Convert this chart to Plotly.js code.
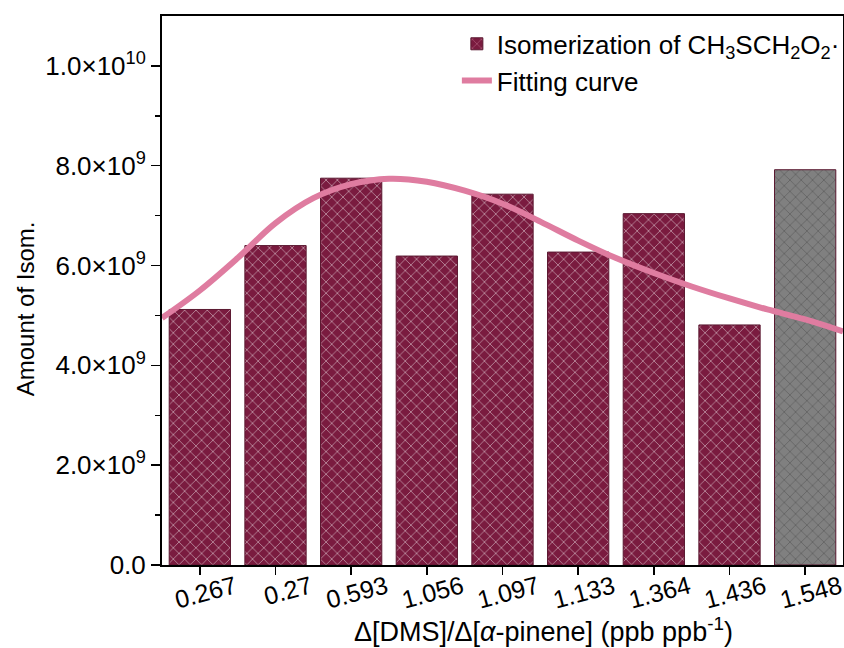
<!DOCTYPE html>
<html>
<head>
<meta charset="utf-8">
<script src="https://cdn.plot.ly/plotly-3.0.1.min.js"></script>
<style>html,body{margin:0;padding:0;background:#fff;}#chart{width:844px;height:648px;}</style>
</head>
<body>
<div id="chart"></div>
<script>
// Categories (x tick labels)
const categories = ["0.267", "0.27", "0.593", "1.056", "1.097", "1.133", "1.364", "1.436", "1.548"];
// Bar values: amount of isomerization
const isomValues = [5.12e9, 6.40e9, 7.75e9, 6.19e9, 7.43e9, 6.27e9, 7.04e9, 4.81e9, 7.92e9];
// Fitting curve (x in category-index units)
const curveX = [-0.5, 0.0, 0.5, 1.0, 1.5, 2.0, 2.5, 3.0, 3.5, 4.0, 4.5, 5.0, 5.5, 6.0, 6.5, 7.0, 7.5, 8.0, 8.5];
const curveY = [4.95e9, 5.50e9, 6.15e9, 6.85e9, 7.35e9, 7.63e9, 7.74e9, 7.68e9, 7.50e9, 7.24e9, 6.88e9, 6.50e9, 6.15e9, 5.85e9, 5.58e9, 5.34e9, 5.12e9, 4.92e9, 4.68e9];
// Y tick labels
const yTickVals = [0, 2e9, 4e9, 6e9, 8e9, 1e10];
const yTickText = ["0.0", "2.0×10<sup>9</sup>", "4.0×10<sup>9</sup>", "6.0×10<sup>9</sup>", "8.0×10<sup>9</sup>", "1.0×10<sup>10</sup>"];
const yMinorVals = [1e9, 3e9, 5e9, 7e9, 9e9];
// Axis titles
const xTitle = "Δ[DMS]/Δ[<i>α</i>-pinene] (ppb ppb<sup>-1</sup>)";
const yTitle = "Amount of Isom.";

const idx = categories.map((_, i) => i);
const maroon = "#7a1b3f", maroonLine = "#d892a8";
const grey = "#808080", greyLine = "#c8c8c8";
const barBg = categories.map((_, i) => i === categories.length - 1 ? grey : maroon);
const barFg = categories.map((_, i) => i === categories.length - 1 ? greyLine : maroonLine);

const bars = {
  type: "bar",
  x: idx,
  y: isomValues,
  name: "Isomerization of CH<sub>3</sub>SCH<sub>2</sub>O<sub>2</sub>·",
  marker: {
    color: barBg,
    line: {color: "#5a1830", width: 1},
    pattern: {shape: "x", fillmode: "overlay", fgcolor: barFg, size: 8, solidity: 0.2}
  },
  hoverinfo: "skip"
};
const curve = {
  type: "scatter",
  mode: "lines",
  x: curveX,
  y: curveY,
  name: "Fitting curve",
  line: {color: "#df7ca0", width: 6, shape: "spline"},
  hoverinfo: "skip"
};

const font = "Liberation Sans, Arial, sans-serif";
const layout = {
  width: 844, height: 648,
  margin: {l: 162, r: 1, t: 16, b: 83, autoexpand: false},
  paper_bgcolor: "#fff", plot_bgcolor: "#fff",
  font: {family: font, size: 24, color: "#000"},
  bargap: 0.19,
  showlegend: true,
  legend: {x: 0.433, y: 0.992, xanchor: "left", yanchor: "top", bgcolor: "rgba(0,0,0,0)",
           font: {family: font, size: 26, color: "#000"}, tracegroupgap: 0, itemwidth: 30},
  xaxis: {
    range: [-0.5, 8.5], automargin: false,
    tickmode: "array", tickvals: idx, ticktext: categories,
    tickangle: -15, ticklabelshift: 35, ticklabelstandoff: -12, ticklabeloverflow: "allow",
    ticks: "outside", ticklen: 8, tickwidth: 1.5, tickcolor: "#000",
    showline: true, linewidth: 2, linecolor: "#000", mirror: true,
    showgrid: false, zeroline: false,
    tickfont: {family: font, size: 25}
  },
  yaxis: {
    range: [0, 1.1e10], automargin: false,
    tickmode: "array", tickvals: yTickVals, ticktext: yTickText,
    ticks: "outside", ticklen: 9, tickwidth: 1.5, tickcolor: "#000",
    minor: {tickmode: "array", tickvals: yMinorVals, ticks: "outside", ticklen: 5, tickwidth: 1.5, tickcolor: "#000", showgrid: false},
    showline: true, linewidth: 2, linecolor: "#000", mirror: true,
    showgrid: false, zeroline: false,
    tickfont: {family: font, size: 26}
  },
  annotations: [
    {text: xTitle, xref: "paper", yref: "paper", x: 0.56, y: -0.1184, xanchor: "center", yanchor: "middle",
     showarrow: false, font: {family: font, size: 27, color: "#000"}},
    {text: yTitle, xref: "paper", yref: "paper", x: -0.201, y: 0.466, xanchor: "center", yanchor: "middle",
     textangle: -90, showarrow: false, font: {family: font, size: 24, color: "#000"}}
  ]
};
Plotly.newPlot("chart", [bars, curve], layout, {displayModeBar: false, staticPlot: true});
</script>
</body>
</html>
